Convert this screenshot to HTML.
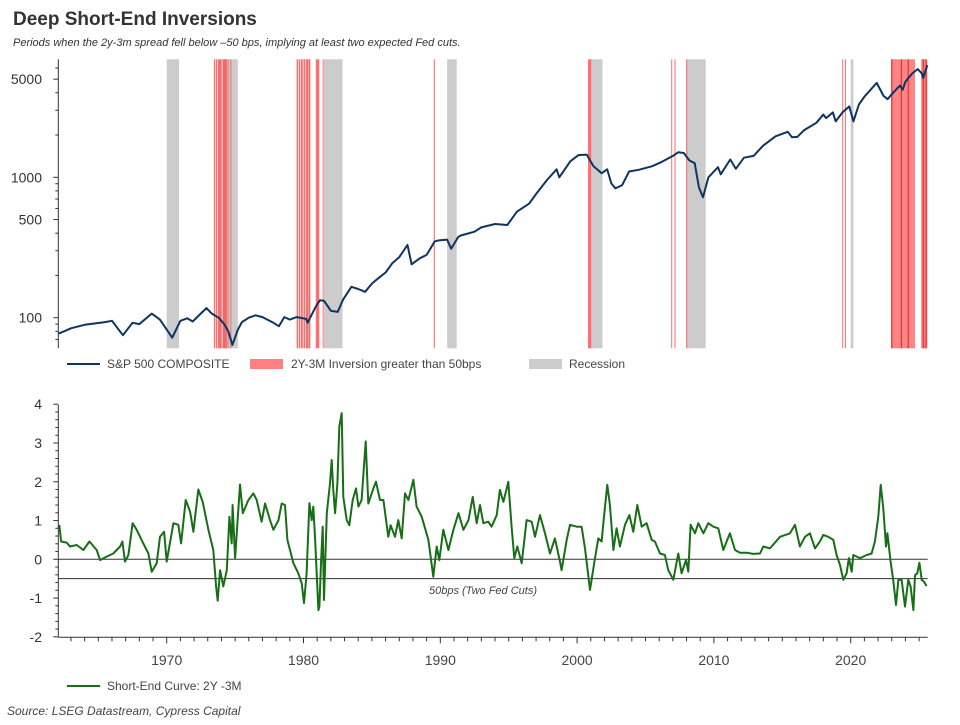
<!DOCTYPE html>
<html><head><meta charset="utf-8">
<style>
body{margin:0;background:#fff;width:960px;height:720px;overflow:hidden;font-family:"Liberation Sans",sans-serif;}
svg text{font-family:"Liberation Sans",sans-serif;}
</style></head>
<body>
<svg id="chart" width="960" height="720" viewBox="0 0 960 720">
<text x="13" y="25" font-size="19" font-weight="bold" fill="#333">Deep Short-End Inversions</text>
<text x="13" y="46" font-size="11" font-style="italic" fill="#333">Periods when the 2y-3m spread fell below –50 bps, implying at least two expected Fed cuts.</text>
<g id="topPanel"></g>
<g id="botPanel"></g>
<g>
<line x1="67" y1="364" x2="100" y2="364" stroke="#0d3560" stroke-width="2"/>
<text x="107" y="368" font-size="12" fill="#444">S&amp;P 500 COMPOSITE</text>
<rect x="250" y="359" width="33" height="10" fill="#ff8080"/>
<text x="291" y="368" font-size="12" fill="#444">2Y-3M Inversion greater than 50bps</text>
<rect x="529" y="359" width="33" height="10" fill="#cccccc"/>
<text x="569" y="368" font-size="12" fill="#444">Recession</text>
</g>
<g>
<line x1="67" y1="686" x2="100" y2="686" stroke="#176e17" stroke-width="2"/>
<text x="107" y="690" font-size="12" fill="#444">Short-End Curve: 2Y -3M</text>
</g>
<text x="7" y="715" font-size="12" font-style="italic" fill="#444">Source: LSEG Datastream, Cypress Capital</text>
</svg>
<script>
const spYears=[1962.1,1962.5,1963,1964,1965.5,1966,1966.8,1967.5,1968,1968.9,1969.5,1970.4,1971,1971.5,1971.9,1972.9,1973.3,1973.8,1974.2,1974.5,1974.8,1975.2,1975.5,1976,1976.5,1977,1977.8,1978.2,1978.6,1979,1979.5,1980.2,1980.3,1980.9,1981.2,1981.5,1982,1982.5,1982.9,1983.5,1984,1984.5,1985,1985.5,1986,1986.5,1987,1987.6,1987.9,1988.5,1989,1989.6,1989.9,1990.5,1990.8,1991.3,1991.5,1992.5,1993,1994,1994.9,1995.6,1996.5,1997,1997.8,1998.5,1998.7,1999.5,2000.1,2000.7,2001.2,2001.8,2002.2,2002.5,2002.8,2003.3,2003.8,2004.5,2005.5,2006.2,2007,2007.4,2007.8,2008.2,2008.6,2008.9,2009.2,2009.6,2010.3,2010.5,2011.2,2011.6,2012.2,2012.9,2013.6,2014.5,2015.4,2015.7,2016.1,2016.6,2017.5,2018,2018.2,2018.7,2018.9,2019.4,2019.9,2020.2,2020.6,2021,2021.9,2022.4,2022.7,2023,2023.6,2023.8,2024,2024.5,2024.9,2025.2,2025.3,2025.6];
const spValues=[77,80,84,89,93,95,75,92,90,107,97,72,95,99,94,117,107,100,90,80,64,82,93,100,104,101,92,87,101,97,101,98,92,120,133,132,112,110,135,166,160,153,175,192,210,245,270,330,240,265,280,350,355,360,310,375,385,410,440,465,457,569,650,760,956,1140,1000,1300,1440,1450,1200,1070,1140,905,833,880,1100,1130,1200,1290,1420,1510,1490,1320,1260,850,720,1000,1180,1050,1340,1150,1380,1420,1680,1960,2110,1930,1940,2170,2450,2800,2640,2900,2500,2900,3200,2500,3300,3750,4700,3800,3600,3900,4500,4200,4800,5500,5900,5500,5100,6300];
const recessionStart=[1970.0,1973.9,1980.0,1981.5,1990.5,2001.07,2008.0,2020.0];
const recessionEnd=[1970.9,1975.2,1980.5,1982.85,1991.2,2001.85,2009.4,2020.2];
const inversionStart=[1973.45,1973.6,1973.75,1974.1,1974.45,1974.65,1979.5,1979.65,1979.8,1980.0,1980.2,1980.4,1980.9,1981.4,1989.52,2000.8,2006.88,2007.12,2007.97,2019.38,2019.58,2022.95,2025.15];
const inversionEnd=[1973.55,1973.7,1974.0,1974.4,1974.5,1974.7,1979.6,1979.75,1979.95,1980.1,1980.35,1980.5,1981.15,1981.45,1989.6,2001.05,2006.93,2007.18,2008.05,2019.42,2019.62,2024.7,2025.6];
const inversionStripeYears=[2023.0,2023.7,2024.2,2025.3,2025.5];
const spreadYears=[1962.15,1962.28,1962.69,1962.93,1963.42,1963.91,1964.35,1964.88,1965.13,1965.61,1966.10,1966.59,1966.76,1966.95,1967.20,1967.51,1967.81,1968.29,1968.66,1968.90,1969.27,1969.51,1969.81,1970.00,1970.49,1970.85,1971.05,1971.39,1971.71,1971.95,1972.31,1972.63,1973.05,1973.41,1973.61,1973.73,1973.90,1974.14,1974.39,1974.58,1974.75,1974.82,1975.00,1975.36,1975.56,1975.97,1976.34,1976.58,1976.94,1977.19,1977.55,1977.80,1978.17,1978.41,1978.65,1978.82,1979.26,1979.62,1979.87,1980.04,1980.23,1980.43,1980.60,1980.72,1980.84,1981.09,1981.16,1981.28,1981.40,1981.50,1981.70,1981.94,1982.06,1982.18,1982.31,1982.48,1982.62,1982.79,1982.91,1983.16,1983.35,1983.60,1983.84,1984.01,1984.25,1984.55,1984.74,1985.11,1985.30,1985.59,1985.84,1986.20,1986.37,1986.69,1986.93,1987.18,1987.42,1987.67,1988.03,1988.27,1988.64,1989.13,1989.49,1989.74,1989.93,1990.22,1990.59,1990.96,1991.33,1991.69,1992.06,1992.37,1992.66,1992.90,1993.14,1993.51,1993.75,1994.12,1994.36,1994.61,1994.97,1995.21,1995.41,1995.63,1995.95,1996.31,1996.68,1996.92,1997.29,1997.65,1998.02,1998.38,1998.75,1998.87,1999.24,1999.48,1999.97,2000.33,2000.58,2000.94,2001.31,2001.55,2001.79,2002.04,2002.21,2002.40,2002.65,2002.89,2003.13,2003.50,2003.82,2004.11,2004.40,2004.72,2005.08,2005.45,2005.69,2006.06,2006.42,2006.67,2007.03,2007.40,2007.64,2007.96,2008.13,2008.30,2008.62,2008.86,2009.23,2009.59,2009.96,2010.32,2010.69,2011.17,2011.54,2011.91,2012.39,2012.88,2013.37,2013.61,2014.10,2014.83,2015.56,2015.93,2016.29,2016.66,2017.02,2017.39,2017.75,2018.00,2018.36,2018.73,2018.97,2019.22,2019.46,2019.70,2019.87,2020.07,2020.19,2020.68,2021.17,2021.53,2021.77,2022.02,2022.19,2022.38,2022.58,2022.68,2022.92,2023.11,2023.31,2023.49,2023.72,2023.97,2024.21,2024.38,2024.58,2024.70,2024.87,2025.02,2025.19,2025.36,2025.55];
const spreadValues=[0.89,0.46,0.43,0.33,0.37,0.24,0.46,0.24,-0.02,0.07,0.15,0.33,0.46,-0.06,0.11,0.93,0.76,0.41,0.15,-0.32,-0.10,0.58,0.71,-0.06,0.93,0.89,0.41,1.53,1.23,0.71,1.80,1.48,0.76,0.24,-0.70,-1.07,-0.28,-0.70,-0.28,1.10,0.41,1.40,0.03,1.93,1.19,1.53,1.70,1.53,0.97,1.44,1.01,0.76,1.01,1.44,1.40,0.50,-0.10,-0.36,-0.62,-1.13,-0.36,1.45,1.01,1.36,0.58,-1.31,-1.22,-0.10,0.84,-1.05,1.19,1.96,2.56,1.78,1.19,1.96,3.42,3.77,1.61,1.01,0.88,1.53,1.83,1.36,1.53,3.04,1.44,1.83,2.00,1.53,1.53,0.58,0.88,0.58,1.01,0.54,1.70,1.53,2.05,1.36,1.10,0.50,-0.45,0.33,-0.02,0.76,0.24,0.76,1.19,0.76,1.01,1.61,0.93,1.40,0.93,0.97,0.84,1.14,1.79,1.48,2.00,0.84,0.03,0.33,-0.10,1.01,0.97,0.58,1.14,0.67,0.15,0.54,-0.06,-0.28,0.50,0.89,0.84,0.84,0.28,-0.79,0.03,0.54,0.46,1.36,1.92,1.40,0.24,0.80,0.33,0.89,1.14,0.71,1.40,0.84,0.93,0.50,0.46,0.15,0.11,-0.28,-0.53,0.15,-0.36,-0.02,-0.32,0.89,0.67,0.93,0.67,0.93,0.84,0.80,0.24,0.67,0.24,0.17,0.17,0.14,0.15,0.33,0.28,0.58,0.67,0.89,0.33,0.58,0.67,0.28,0.46,0.63,0.58,0.50,0.11,-0.15,-0.53,-0.36,0.03,-0.32,0.11,0.03,0.11,0.15,0.46,1.10,1.92,1.31,0.33,0.67,-0.06,-0.53,-1.18,-0.53,-0.53,-1.22,-0.53,-0.70,-1.31,-0.41,-0.36,-0.09,-0.53,-0.58,-0.69];
const logTickValues=[100,500,1000,5000];
const logTickLabels=["100","500","1000","5000"];
const spreadTicks=[-2,-1,0,1,2,3,4];
const decadeTicks=[1970,1980,1990,2000,2010,2020];

const NS="http://www.w3.org/2000/svg";
function mk(parent,tag,attrs){const e=document.createElementNS(NS,tag);for(const k in attrs)e.setAttribute(k,attrs[k]);parent.appendChild(e);return e;}
const X0=58.3, X1=927.7;
const xScale=y=>166.7+(y-1970)*13.68;
const TOPY=59.3, BOTY=348.3;
const yLog=v=>317.7-(Math.log10(v)-2)*140.4;
const ySp=v=>559.3-v*38.77;
const topG=document.getElementById('topPanel'), botG=document.getElementById('botPanel');

for(let i=0;i<recessionStart.length;i++){
  const r=mk(topG,'rect',{x:xScale(recessionStart[i]),y:TOPY,width:xScale(recessionEnd[i])-xScale(recessionStart[i]),height:BOTY-TOPY,fill:'#cccccc'});
  
  
}
for(let i=0;i<inversionStart.length;i++){
  const w=Math.max(1,xScale(inversionEnd[i])-xScale(inversionStart[i]));
  const r=mk(topG,'rect',{x:xScale(inversionStart[i]),y:TOPY,width:w,height:BOTY-TOPY,fill:w>5?'#ff8585':'#ff5555','fill-opacity':w>5?1:0.85});
  
  
}
inversionStripeYears.forEach(yr=>{
  const s=mk(topG,'rect',{x:xScale(yr)-0.5,y:TOPY,width:1.2,height:BOTY-TOPY,fill:'#e83030'});
  
  
});
const ax=mk(topG,'line',{x1:X0,y1:TOPY,x2:X0,y2:BOTY,stroke:'#333','stroke-width':1});


for(let d=1;d<=4;d++){for(let m=1;m<=9;m++){const v=m*Math.pow(10,d);const y=yLog(v);if(y<TOPY-0.5||y>BOTY+0.5)continue;
  const big=logTickValues.includes(v);mk(topG,'line',{x1:X0-(big?5:3),y1:y,x2:X0,y2:y,stroke:'#333','stroke-width':1});}}
logTickValues.forEach((v,i)=>{const t=mk(topG,'text',{x:42,y:yLog(v)+5,'font-size':14,'text-anchor':'end',fill:'#333'});t.textContent=logTickLabels[i];
  
  });
let d='';spYears.forEach((yr,i)=>{d+=(i?'L':'M')+xScale(yr).toFixed(1)+','+yLog(spValues[i]).toFixed(1);});
const spl=mk(topG,'path',{d:d,fill:'none',stroke:'#0d3560','stroke-width':2,'stroke-linejoin':'round'});



const B_TOP=404.7,B_BOT=637.3;
const bax=mk(botG,'line',{x1:X0,y1:B_TOP,x2:X0,y2:B_BOT,stroke:'#333','stroke-width':1});


const xax=mk(botG,'line',{x1:X0,y1:B_BOT,x2:X1,y2:B_BOT,stroke:'#333','stroke-width':1});


for(let v=-2;v<=4.001;v+=0.2){const y=ySp(v);const big=Math.abs(v-Math.round(v))<0.01;mk(botG,'line',{x1:X0-(big?5:3),y1:y,x2:X0,y2:y,stroke:'#333','stroke-width':1});}
spreadTicks.forEach(v=>{const t=mk(botG,'text',{x:42,y:ySp(v)+5,'font-size':14,'text-anchor':'end',fill:'#333'});t.textContent=String(v);
  
  });
for(let yr=1963;yr<=2025;yr++){const x=xScale(yr);const big=yr%10===0;mk(botG,'line',{x1:x,y1:B_BOT,x2:x,y2:B_BOT+(big?6:4),stroke:'#333','stroke-width':1});}
decadeTicks.forEach(yr=>{const t=mk(botG,'text',{x:xScale(yr),y:665,'font-size':14,'text-anchor':'middle',fill:'#444'});t.textContent=String(yr);
  
  });
const zl=mk(botG,'line',{x1:X0,y1:ySp(0),x2:X1,y2:ySp(0),stroke:'#333','stroke-width':1});


const hl=mk(botG,'line',{x1:X0,y1:ySp(-0.5),x2:X1,y2:ySp(-0.5),stroke:'#333','stroke-width':1});


const ht=mk(botG,'text',{x:483,y:594,'font-size':11,'font-style':'italic','text-anchor':'middle',fill:'#444'});ht.textContent='50bps (Two Fed Cuts)';


let d2='';spreadYears.forEach((yr,i)=>{d2+=(i?'L':'M')+xScale(yr).toFixed(1)+','+ySp(spreadValues[i]).toFixed(1);});
const gl=mk(botG,'path',{d:d2,fill:'none',stroke:'#176e17','stroke-width':2,'stroke-linejoin':'round'});


</script>
</body></html>
